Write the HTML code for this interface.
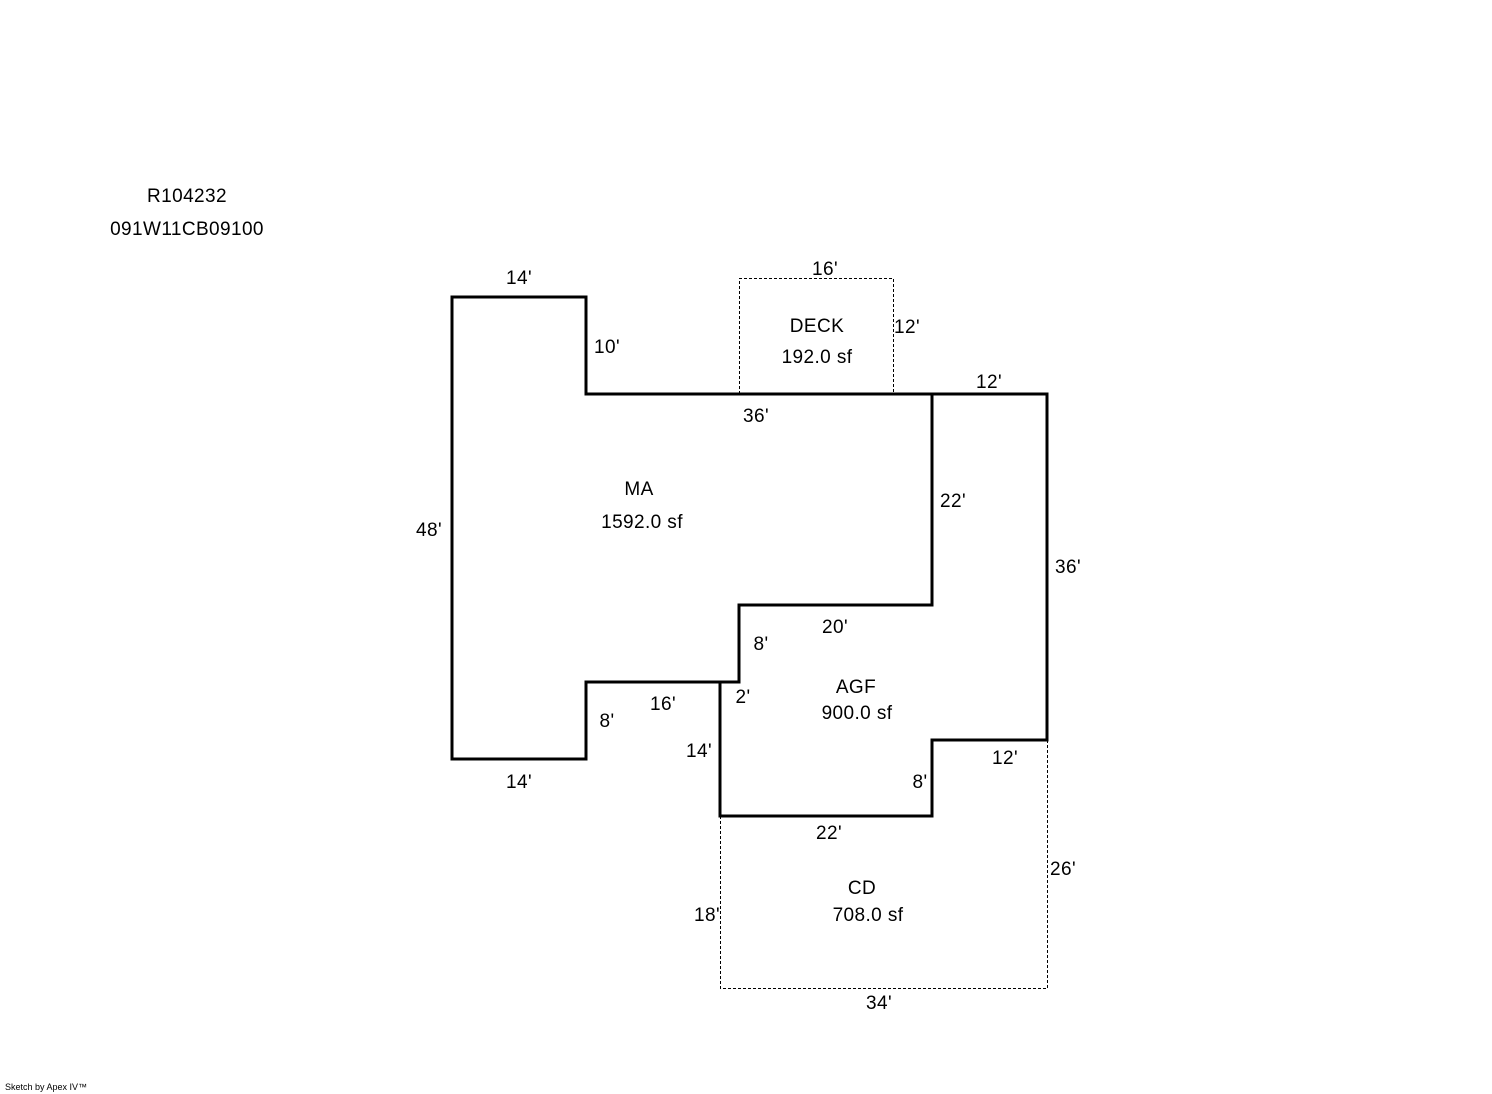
<!DOCTYPE html>
<html><head><style>html,body{margin:0;padding:0;background:#fff}svg{display:block}</style></head><body>
<svg width="1492" height="1094" xmlns="http://www.w3.org/2000/svg" font-family="Liberation Sans, Arial, sans-serif" font-size="19" letter-spacing="0.4" fill="#000">
<g fill="none" stroke="#000" stroke-width="3" stroke-linejoin="miter">
<polyline points="452,297 586,297 586,394 1047,394 1047,740 932,740 932,816 720,816 720,682 739,682"/>
<polygon points="452,297 586,297 586,394 932,394 932,605 739,605 739,682 586,682 586,759 452,759"/>
</g>
<g fill="none" stroke="#000" stroke-width="1" stroke-dasharray="3,2">
<polyline points="739.5,394 739.5,278.5 893.5,278.5 893.5,394"/>
<polyline points="720.5,816 720.5,988.5 1047.5,988.5 1047.5,740"/>
</g>
<g text-anchor="middle">
<text x="187" y="202">R104232</text>
<text x="187" y="235">091W11CB09100</text>
<text x="519" y="284">14'</text>
<text x="607" y="353">10'</text>
<text x="825" y="275">16'</text>
<text x="817" y="332">DECK</text>
<text x="817" y="363">192.0 sf</text>
<text x="907" y="333">12'</text>
<text x="989" y="388">12'</text>
<text x="756" y="422">36'</text>
<text x="639" y="495">MA</text>
<text x="642" y="528">1592.0 sf</text>
<text x="429" y="536">48'</text>
<text x="953" y="507">22'</text>
<text x="1068" y="573">36'</text>
<text x="835" y="633">20'</text>
<text x="761" y="650">8'</text>
<text x="856" y="693">AGF</text>
<text x="857" y="719">900.0 sf</text>
<text x="743" y="703">2'</text>
<text x="663" y="710">16'</text>
<text x="607" y="727">8'</text>
<text x="699" y="757">14'</text>
<text x="1005" y="764">12'</text>
<text x="920" y="788">8'</text>
<text x="519" y="788">14'</text>
<text x="829" y="839">22'</text>
<text x="1063" y="875">26'</text>
<text x="862" y="894">CD</text>
<text x="868" y="921">708.0 sf</text>
<text x="707" y="921">18'</text>
<text x="879" y="1009">34'</text>
</g>
<text x="5" y="1090" font-size="9" letter-spacing="0">Sketch by Apex IV™</text>
</svg>
</body></html>
